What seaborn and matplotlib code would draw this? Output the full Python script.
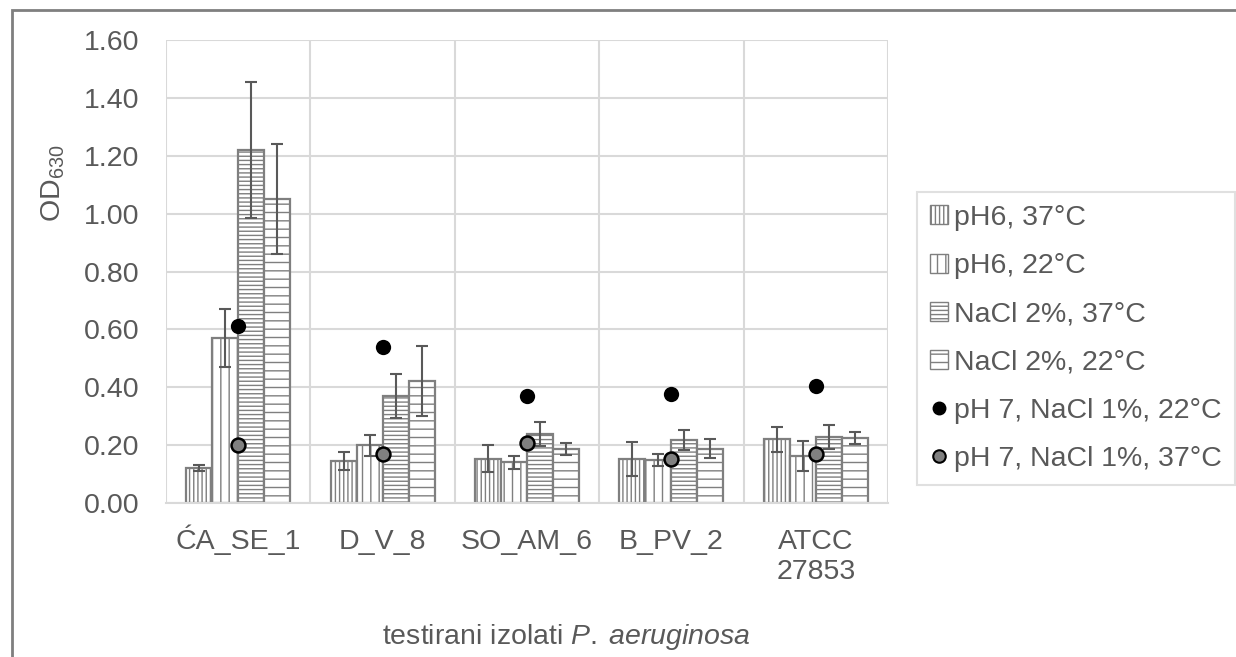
import numpy as np
import pandas as pd
import seaborn as sns
import matplotlib.pyplot as plt
from matplotlib.patches import Patch, Rectangle
from matplotlib.lines import Line2D
from matplotlib.transforms import ScaledTranslation

isolates = ['ĆA_SE_1', 'D_V_8', 'SO_AM_6', 'B_PV_2', 'ATCC\n27853']
conditions = ['pH6, 37°C', 'pH6, 22°C', 'NaCl 2%, 37°C', 'NaCl 2%, 22°C']

ph6_37 = [0.12, 0.145, 0.153, 0.152, 0.22]
ph6_37_sd = [0.01, 0.031, 0.047, 0.058, 0.044]
ph6_22 = [0.57, 0.20, 0.14, 0.148, 0.163]
ph6_22_sd = [0.10, 0.036, 0.022, 0.02, 0.052]
nacl_37 = [1.22, 0.37, 0.238, 0.218, 0.228]
nacl_37_sd = [0.235, 0.076, 0.041, 0.035, 0.042]
nacl_22 = [1.05, 0.422, 0.186, 0.188, 0.225]
nacl_22_sd = [0.19, 0.12, 0.02, 0.033, 0.021]

ph7_22 = [0.61, 0.54, 0.37, 0.377, 0.405]
ph7_37 = [0.20, 0.17, 0.208, 0.152, 0.17]

legend_dots = ['pH 7, NaCl 1%, 22°C', 'pH 7, NaCl 1%, 37°C']

means = [ph6_37, ph6_22, nacl_37, nacl_22]
sds = [ph6_37_sd, ph6_22_sd, nacl_37_sd, nacl_22_sd]
hatches = ['||||', '||', '----', '--']

txt = '#595959'
edge = '#7f7f7f'
grid = '#d9d9d9'

sns.set_style('white')
plt.rcParams['font.family'] = ['Liberation Sans', 'DejaVu Sans']
plt.rcParams['mathtext.fontset'] = 'custom'
plt.rcParams['mathtext.rm'] = 'Liberation Sans'
plt.rcParams['mathtext.it'] = 'Liberation Sans:italic'
plt.rcParams['hatch.color'] = edge
plt.rcParams['hatch.linewidth'] = 1.0

df = pd.DataFrame({
    'isolate': np.tile(isolates, len(conditions)),
    'condition': np.repeat(conditions, len(isolates)),
    'od': np.concatenate(means),
})

fig = plt.figure(figsize=(12.36, 6.57), dpi=100)
ax = fig.add_axes([166 / 1236, 1 - 503 / 657, 722 / 1236, 463 / 657])

sns.barplot(data=df, x='isolate', y='od', hue='condition', order=isolates,
            hue_order=conditions, palette=['white'] * 4, width=0.72, gap=0,
            errorbar=None, edgecolor=edge, linewidth=1.6, legend=False,
            ax=ax, zorder=2)

for cont, h, sd in zip(ax.containers, hatches, sds):
    for p in cont:
        p.set_hatch(h)
    xs = [p.get_x() + p.get_width() / 2 for p in cont]
    ys = [p.get_height() for p in cont]
    ax.errorbar(xs, ys, yerr=sd, fmt='none', ecolor=txt, elinewidth=1.5,
                capsize=4, capthick=1.5, zorder=4)

sns.stripplot(x=isolates, y=ph7_22, order=isolates, jitter=False, color='black',
              size=11, linewidth=0, ax=ax, zorder=5)
sns.stripplot(x=isolates, y=ph7_37, order=isolates, jitter=False, color='#808080',
              size=10, linewidth=1.8, edgecolor='black', ax=ax, zorder=6)

ax.set_ylim(0, 1.6)
ax.set_xlim(-0.5, 4.5)
ax.set_yticks(np.arange(0, 1.61, 0.2))
ax.set_yticklabels([f'{v:.2f}' for v in np.arange(0, 1.61, 0.2)])
ax.set_xticks(range(len(isolates)))
ax.set_xticklabels(isolates, va='baseline')
ax.set_xticks(np.arange(-0.5, 4.6, 1), minor=True)
ax.grid(axis='y', which='major', color=grid, lw=1.5, zorder=0)
ax.grid(axis='x', which='minor', color=grid, lw=1.5, zorder=0)
ax.set_axisbelow(True)
for s in ax.spines.values():
    s.set_visible(False)
ax.spines['bottom'].set_visible(True)
ax.spines['bottom'].set_color(grid)
ax.spines['bottom'].set_linewidth(1.5)
ax.tick_params(axis='both', which='both', length=0, labelsize=20.5, labelcolor=txt)
ax.tick_params(axis='y', pad=19)
ax.tick_params(axis='x', pad=33)

# two-line label: baseline alignment uses its last line, push it down one line
for lab in ax.get_xticklabels():
    if '\n' in lab.get_text():
        lab.set_transform(lab.get_transform() +
                          ScaledTranslation(0, -0.30, fig.dpi_scale_trans))

ax.set_ylabel(r'OD$_{\mathregular{630}}$', fontsize=20.5, color=txt)
ax.yaxis.set_label_coords(-0.137, 0.69)
ax.set_xlabel(r'testirani izolati $\mathit{P.\;aeruginosa}$',
              fontsize=20.5, color=txt)
ax.xaxis.set_label_coords(0.555, -0.258)

handles = [Patch(facecolor='white', edgecolor=edge, hatch=h, lw=1.0) for h in hatches]
handles += [Line2D([], [], ls='', marker='o', color='black', markersize=9),
            Line2D([], [], ls='', marker='o', markerfacecolor='#808080',
                   markeredgecolor='black', markeredgewidth=1.5, markersize=9)]
leg = fig.legend(handles, conditions + legend_dots, loc='upper left',
                 bbox_to_anchor=(917 / 1236, 1 - 192 / 657), fontsize=20.5,
                 frameon=True, fancybox=False, handlelength=0.65, handleheight=0.65,
                 handletextpad=0.2, labelspacing=0.78, borderpad=0.45,
                 borderaxespad=0)
leg.get_frame().set_edgecolor(grid)
leg.get_frame().set_linewidth(1.5)
for t in leg.get_texts():
    t.set_color(txt)

fig.patches.append(Rectangle((12 / 1236, -0.05), 1.1, 1 - 10 / 657 + 0.05,
                             transform=fig.transFigure, fill=False,
                             edgecolor=edge, lw=2))

fig.savefig('out.png', dpi=100)
